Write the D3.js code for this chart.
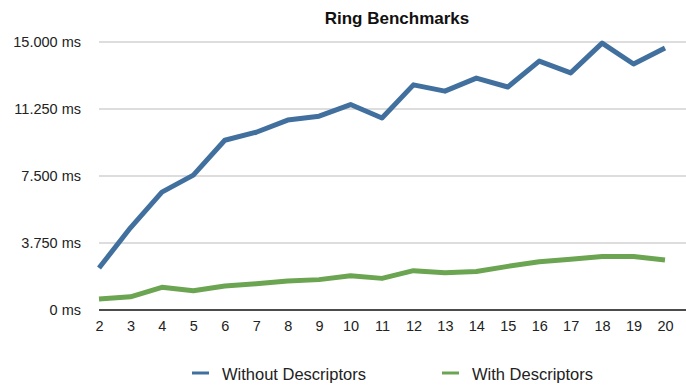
<!DOCTYPE html>
<html>
<head>
<meta charset="utf-8">
<script src="https://cdn.jsdelivr.net/npm/d3@7"></script>
<style>
  body { margin: 0; background: #fff; }
  text { font-family: "Liberation Sans", Arial, sans-serif; fill: #222; }
</style>
</head>
<body>
<div id="chart"></div>
<script>
// ring sizes on the x axis
var rings = [2, 3, 4, 5, 6, 7, 8, 9, 10, 11, 12, 13, 14, 15, 16, 17, 18, 19, 20];

// times in ms
var withoutDescriptors = [2350, 4600, 6600, 7550, 9500, 9950, 10630, 10850, 11500, 10750,
	12600, 12250, 12980, 12480, 13930, 13270, 14940, 13770, 14660];
var withDescriptors = [620, 740, 1270, 1080, 1340, 1470, 1620, 1700, 1920, 1770,
	2200, 2090, 2160, 2440, 2700, 2840, 2990, 2990, 2800];

var yTicks = [0, 3750, 7500, 11250, 15000];
var seriesNames = ["Without Descriptors", "With Descriptors"];
var colors = ["#41709f", "#6ba551"];

var width = 686;
var height = 385;
var margin = {left: 99, top: 42, right: 0, bottom: 75};

var svg = d3.select("#chart")
	.append("svg")
	.attr("width", width)
	.attr("height", height);

var x = d3.scaleLinear()
	.domain([2, 20])
	.range([margin.left, 665]);

var y = d3.scaleLinear()
	.domain([0, 15000])
	.range([height - margin.bottom, margin.top]);

// grid lines
svg.append("g")
	.selectAll("line")
	.data(yTicks)
	.enter()
	.append("line")
	.attr("x1", margin.left)
	.attr("x2", width)
	.attr("y1", function(d) { return y(d); })
	.attr("y2", function(d) { return y(d); })
	.attr("stroke", function(d) { return d == 0 ? "#111" : "#bcbcbc"; })
	.attr("stroke-width", function(d) { return d == 0 ? 1.5 : 1.2; });

// y labels
var fmt = function(d) {
	return d == 0 ? "0 ms" : d3.format(",.3f")(d / 1000).replace(",", "") + " ms";
};
svg.append("g")
	.selectAll("text")
	.data(yTicks)
	.enter()
	.append("text")
	.attr("x", 81)
	.attr("y", function(d) { return y(d); })
	.attr("dy", "0.36em")
	.attr("text-anchor", "end")
	.style("font-size", "14.5px")
	.text(fmt);

// x labels
var xAxis = d3.axisBottom(x)
	.tickValues(rings)
	.tickSize(0)
	.tickPadding(11)
	.tickFormat(d3.format("d"));
var gx = svg.append("g")
	.attr("transform", "translate(0," + y(0) + ")")
	.call(xAxis);
gx.select(".domain").remove();
gx.selectAll("text")
	.style("font-size", "14.5px")
	.style("font-family", "'Liberation Sans', Arial, sans-serif")
	.attr("fill", "#222");

// lines
var line = d3.line()
	.x(function(d, i) { return x(rings[i]); })
	.y(function(d) { return y(d); });

[withoutDescriptors, withDescriptors].forEach(function(s, k) {
	svg.append("path")
		.datum(s)
		.attr("d", line)
		.attr("fill", "none")
		.attr("stroke", colors[k])
		.attr("stroke-width", 5)
		.attr("stroke-linejoin", "round");
});

// title
svg.append("text")
	.attr("x", 397)
	.attr("y", 24)
	.attr("text-anchor", "middle")
	.style("font-size", "17px")
	.style("font-weight", "bold")
	.style("fill", "#111")
	.text("Ring Benchmarks");

// legend
var legendX = [192, 442];
seriesNames.forEach(function(name, k) {
	svg.append("line")
		.attr("x1", legendX[k])
		.attr("x2", legendX[k] + 17)
		.attr("y1", 373)
		.attr("y2", 373)
		.attr("stroke", colors[k])
		.attr("stroke-width", 3);
	svg.append("text")
		.attr("x", legendX[k] + 30)
		.attr("y", 380)
		.style("font-size", "16.5px")
		.text(name);
});
</script>
</body>
</html>
